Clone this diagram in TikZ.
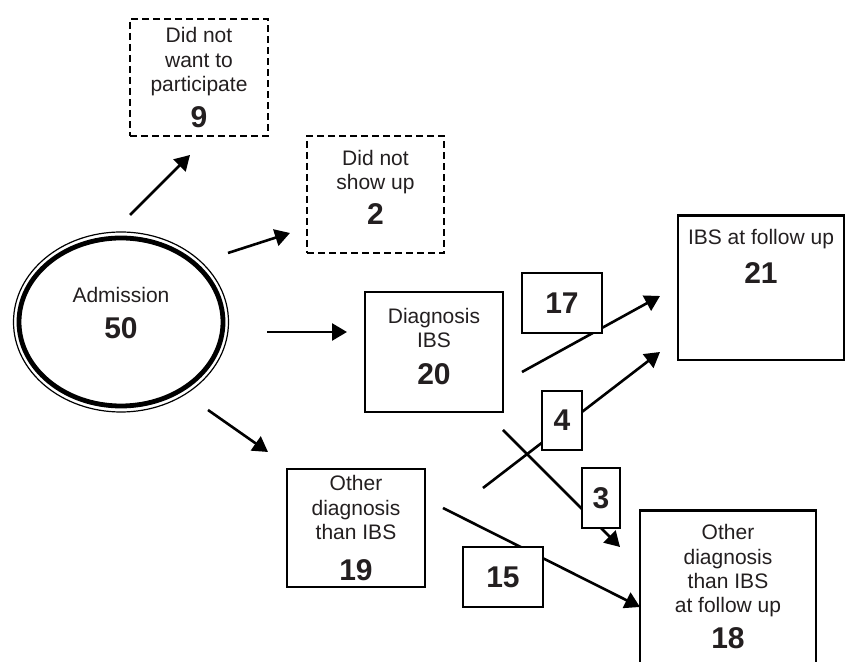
\documentclass[tikz,border=0pt]{standalone}
\usepackage{fontspec}
\setmainfont{Liberation Sans}
\usetikzlibrary{arrows.meta,shapes.geometric}

\definecolor{ink}{RGB}{35,31,32}
\newcommand{\tally}[1]{{\fontsize{15}{18}\selectfont\bfseries #1}}

\tikzset{
	box/.style={draw, line width=1.4pt, fill=white, align=center, inner sep=0pt,
		text=ink, font=\fontsize{10.5}{12.2}\selectfont},
	dbox/.style={box, dash pattern=on 3.5pt off 2pt},
	fubox/.style={box, anchor=north, inner ysep=7pt},
	cnt/.style={box, font=\fontsize{15}{18}\selectfont\bfseries},
	arr/.style={-{Triangle[length=7.5pt,width=8.5pt]}, line width=1.3pt}
}

\begin{document}
\begin{tikzpicture}[x=0.5pt, y=-0.5pt]
	\useasboundingbox (0,0) rectangle (848,662);
	\clip (0,0) rectangle (848,662);

	% arrow ends
	\coordinate (s1) at (130,215); \coordinate (e1) at (190,155);
	\coordinate (s2) at (228,253); \coordinate (e2) at (290,233);
	\coordinate (s3) at (267,332); \coordinate (e3) at (347,332);
	\coordinate (s4) at (208,410); \coordinate (e4) at (268,452);
	\coordinate (s5) at (522,372); \coordinate (e5) at (660,296);
	\coordinate (s6) at (483,488); \coordinate (e6) at (660,352);
	\coordinate (s7) at (503,430); \coordinate (e7) at (620,547);
	\coordinate (s8) at (443,508); \coordinate (e8) at (640,607);
	\foreach \i in {1,...,8}
		\draw[arr] (s\i) -- (e\i);

	% admission
	\node[draw, ellipse, line width=0.6pt, minimum width=107.5pt, minimum height=90pt,
		inner sep=0pt, align=center, text=ink, font=\fontsize{10.5}{12.2}\selectfont,
		text depth=9pt] (adm) at (121,322) {Admission\\[6pt]\tally{50}};
	\draw[line width=2.4pt] (adm.center) ellipse [x radius=51pt, y radius=42pt];

	% drop outs
	\node[dbox, minimum width=69pt, minimum height=58.5pt] (refuse) at (199,77.5)
		{Did not\\want to\\participate\\[4pt]\tally{9}};
	\node[dbox, minimum width=68.5pt, minimum height=58.5pt, text depth=7pt] (absent) at (375.5,194.5)
		{Did not\\show up\\[4pt]\tally{2}};

	% first diagnosis
	\node[box, minimum width=69pt, minimum height=60pt, text depth=6pt] (ibs) at (434,352)
		{Diagnosis\\IBS\\[6pt]\tally{20}};
	\node[box, minimum width=69pt, minimum height=59pt] (other) at (356,528)
		{Other\\diagnosis\\than IBS\\[8pt]\tally{19}};

	% follow up
	\node[fubox, minimum width=83pt, text depth=31pt] (fuibs) at (761,214)
		{IBS at follow up\\[6pt]\tally{21}};
	\node[fubox, minimum width=88pt, text depth=60pt] (fuother) at (728,509)
		{Other\\diagnosis\\than IBS\\at follow up\\[4pt]\tally{18}};

	% counts
	\node[cnt, minimum width=40pt, minimum height=30pt] (n17) at (562,303) {17};
	\node[cnt, minimum width=20pt, minimum height=29.5pt] (n4) at (562,420.5) {4};
	\node[cnt, minimum width=19pt, minimum height=30pt] (n3) at (601,498) {3};
	\node[cnt, minimum width=40pt, minimum height=30pt] (n15) at (503,577) {15};
\end{tikzpicture}
\end{document}
